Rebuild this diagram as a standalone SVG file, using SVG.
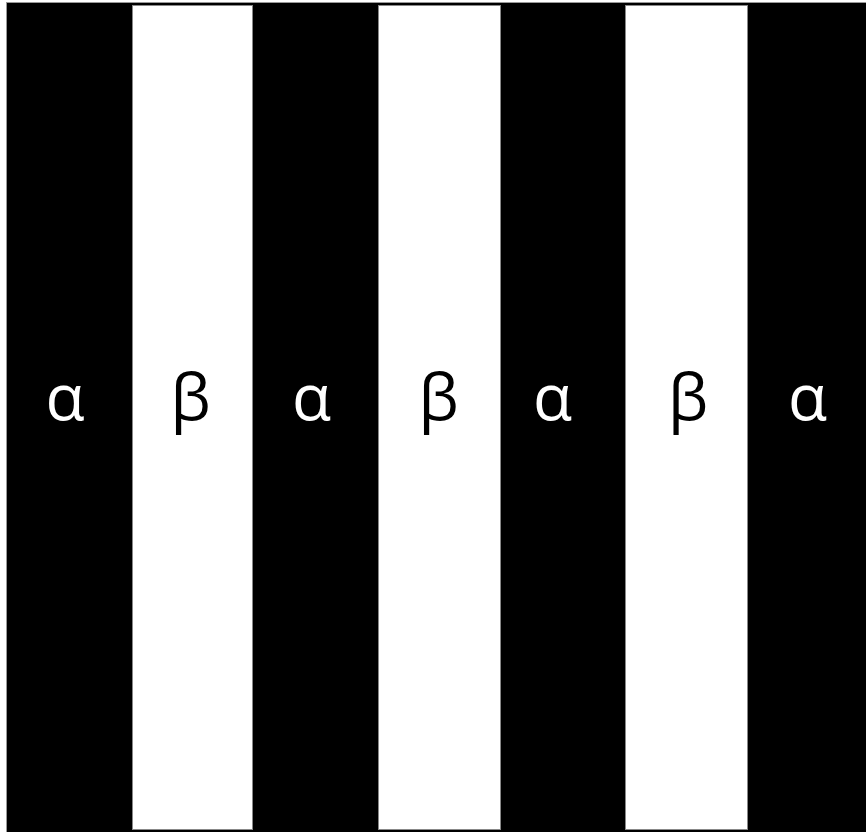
<svg xmlns="http://www.w3.org/2000/svg" width="866" height="832" viewBox="0 0 866 832">
<style>
.bg{fill:#000;stroke:#999;stroke-width:1}
.w{fill:#fff;stroke:#888;stroke-width:1}
.la{font-family:"Open Sans","Noto Sans",sans-serif;font-size:64px;fill:#fff;text-anchor:middle}
.lb{font-family:"Open Sans","Noto Sans",sans-serif;font-size:64px;fill:#000;text-anchor:middle}
</style>
<rect fill="#fff" x="0" y="0" width="866" height="832"/>
<g id="frame"><rect class="bg" x="6.5" y="2.5" width="870" height="840"/></g>
<g id="stripe-b1"><rect class="w" x="132.5" y="5.5" width="120" height="824"/><text class="lb" x="190.5" y="420">β</text></g>
<g id="stripe-b2"><rect class="w" x="378.5" y="5.5" width="122" height="824"/><text class="lb" x="438.5" y="420">β</text></g>
<g id="stripe-b3"><rect class="w" x="625.5" y="5.5" width="122" height="824"/><text class="lb" x="688" y="420">β</text></g>
<g id="stripe-a1"><text class="la" x="65" y="420">α</text></g>
<g id="stripe-a2"><text class="la" x="311.5" y="420">α</text></g>
<g id="stripe-a3"><text class="la" x="552.5" y="420">α</text></g>
<g id="stripe-a4"><text class="la" x="807.5" y="420">α</text></g>
<g id="connectors"></g>
</svg>
